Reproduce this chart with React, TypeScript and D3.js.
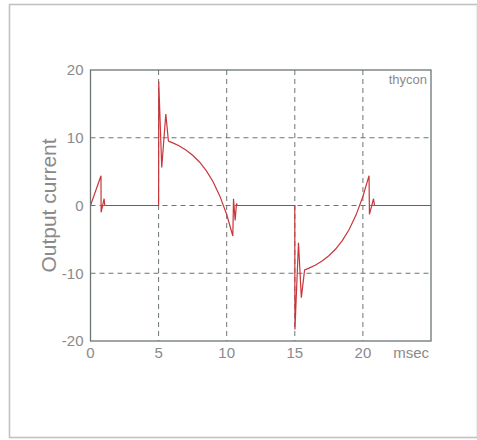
import React, { useRef, useEffect } from 'react';
import * as d3 from 'd3';

// waveform: time in msec, output current
const timeMs: number[] = [
  0, 0.77, 0.78, 1.0, 1.05,
  5.0, 5.01, 5.23, 5.53, 5.72,
  6.0, 6.5, 7.0, 7.5, 8.0, 8.5, 9.0, 9.5, 10.0, 10.45,
  10.5, 10.62, 10.72, 10.78,
  15.0, 15.01, 15.27, 15.48, 15.72,
  16.0, 16.5, 17.0, 17.5, 18.0, 18.5, 19.0, 19.5, 20.0, 20.45,
  20.48, 20.78, 20.85, 25.0,
];
const current: number[] = [
  0, 4.4, -1.0, 1.0, 0,
  0, 18.3, 5.6, 13.5, 9.5,
  9.28, 8.81, 8.2, 7.42, 6.42, 5.14, 3.5, 1.38, -1.33, -4.5,
  1.0, -2.2, 0.3, 0,
  0, -18.3, -5.5, -13.6, -9.5,
  -9.28, -8.81, -8.2, -7.42, -6.42, -5.14, -3.5, -1.38, 1.33, 4.4,
  -1.3, 1.0, 0, 0,
];

const xTicks: number[] = [0, 5, 10, 15, 20];
const yTicks: number[] = [-20, -10, 0, 10, 20];

const W = 477;
const H = 440;

export default function App() {
  const svgRef = useRef<SVGSVGElement>(null);

  useEffect(() => {
    if (!svgRef.current) return;
    const svg = d3.select(svgRef.current);
    svg.selectAll('*').remove();

    const left = 90.5;
    const right = 431;
    const top = 70;
    const bottom = 341;
    const font = "'Liberation Sans', Arial, sans-serif";
    const textColor = '#8a8a8a';
    const axisColor = '#6b7572';

    // outer frame
    svg.append('rect')
      .attr('x', 9.5).attr('y', 4.5)
      .attr('width', 468).attr('height', 433)
      .attr('fill', '#fff')
      .attr('stroke', '#c2c2c2')
      .attr('stroke-width', 1.6);

    const x = d3.scaleLinear().domain([0, 25]).range([left, right]);
    const y = d3.scaleLinear().domain([-20, 20]).range([bottom, top]);

    // grid
    const g = svg.append('g');
    xTicks.filter((t) => t > 0).forEach((t) => {
      g.append('line')
        .attr('x1', x(t)).attr('x2', x(t))
        .attr('y1', top).attr('y2', bottom)
        .attr('stroke', axisColor).attr('stroke-width', 1)
        .attr('stroke-dasharray', '5,4');
    });
    yTicks.filter((t) => t > -20 && t < 20).forEach((t) => {
      g.append('line')
        .attr('x1', left).attr('x2', right)
        .attr('y1', y(t)).attr('y2', y(t))
        .attr('stroke', axisColor).attr('stroke-width', 1)
        .attr('stroke-dasharray', '5,4');
    });

    // waveform
    const line = d3.line<number>()
      .x((d, i) => x(timeMs[i]))
      .y((d) => y(d));
    svg.append('path')
      .datum(current)
      .attr('d', line)
      .attr('fill', 'none')
      .attr('stroke', '#c8363a')
      .attr('stroke-width', 1.2)
      .attr('stroke-linejoin', 'miter');

    // plot box
    svg.append('rect')
      .attr('x', left).attr('y', top)
      .attr('width', right - left).attr('height', bottom - top)
      .attr('fill', 'none')
      .attr('stroke', axisColor)
      .attr('stroke-width', 1.3);

    // tick labels
    yTicks.forEach((t) => {
      svg.append('text')
        .attr('x', left - 7).attr('y', y(t))
        .attr('dy', '0.35em')
        .attr('text-anchor', 'end')
        .attr('font-family', font).attr('font-size', 15)
        .attr('fill', textColor)
        .text(t);
    });
    xTicks.forEach((t) => {
      svg.append('text')
        .attr('x', x(t)).attr('y', bottom + 17)
        .attr('text-anchor', 'middle')
        .attr('font-family', font).attr('font-size', 15)
        .attr('fill', textColor)
        .text(t);
    });

    svg.append('text')
      .attr('x', right - 2).attr('y', bottom + 17)
      .attr('text-anchor', 'end')
      .attr('font-family', font).attr('font-size', 15)
      .attr('fill', textColor)
      .text('msec');

    svg.append('text')
      .attr('x', right - 4).attr('y', top + 14)
      .attr('text-anchor', 'end')
      .attr('font-family', font).attr('font-size', 13)
      .attr('fill', textColor)
      .text('thycon');

    svg.append('text')
      .attr('transform', `translate(56,${(top + bottom) / 2}) rotate(-90)`)
      .attr('text-anchor', 'middle')
      .attr('font-family', font).attr('font-size', 21)
      .attr('fill', textColor)
      .text('Output current');
  }, []);

  return (
    <svg
      ref={svgRef}
      width={W}
      height={H}
      style={{ position: 'fixed', left: 0, top: 0, display: 'block', background: '#fff' }}
    />
  );
}
